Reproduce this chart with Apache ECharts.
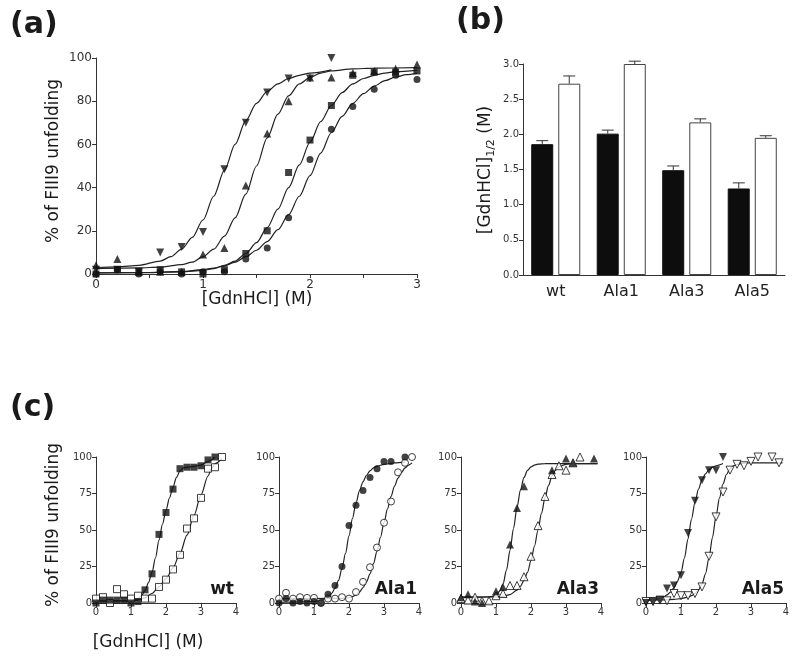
<!DOCTYPE html>
<html><head><meta charset="utf-8">
<script src="https://cdn.jsdelivr.net/npm/echarts@6/dist/echarts.min.js"></script>
<style>html,body{margin:0;padding:0;background:#fff}#chart{width:800px;height:660px}</style>
</head><body><div id="chart"></div>
<script>
// ---------- Panel (a): measured points ----------
const a_Ala5 = [[0,2],[0.2,2],[0.4,1],[0.6,10],[0.8,12.5],[1.0,19.5],[1.2,48.5],[1.4,70],[1.6,84],[1.8,90.5],[2.0,90.5],[2.2,100]];
const a_Ala3 = [[0,4],[0.2,7],[0.4,1],[0.6,1],[0.8,1],[1.0,9],[1.2,12],[1.4,41],[1.6,65],[1.8,80],[2.0,91],[2.2,91],[2.4,93],[2.6,94],[2.8,95],[3.0,97]];
const a_wt   = [[0,0],[0.2,2],[0.4,1],[0.6,2],[0.8,1],[1.0,0],[1.2,2],[1.4,9.5],[1.6,20],[1.8,47],[2.0,62],[2.2,78],[2.4,92],[2.6,93.5],[2.8,93.5],[3.0,94]];
const a_Ala1 = [[0,0],[0.2,2],[0.4,0],[0.6,1],[0.8,0],[1.0,1],[1.2,1],[1.4,7],[1.6,12],[1.8,26],[2.0,53],[2.2,67],[2.4,77.5],[2.6,85.5],[2.8,92],[3.0,90]];
// Panel (a): fitted curves
const a_fitAla5 = [[0,3],[0.2,3.3],[0.4,4],[0.6,6],[0.7,8],[0.8,11.5],[0.9,17],[1.0,25],[1.1,36],[1.2,48],[1.3,60],[1.4,71],[1.5,79],[1.6,84.5],[1.7,88],[1.8,90.5],[1.9,92],[2.0,93],[2.2,94.5]];
const a_fitAla3 = [[0,2.5],[0.4,2.8],[0.6,3.2],[0.8,4.3],[0.9,5.5],[1.0,8],[1.1,11.5],[1.2,17.5],[1.3,26],[1.4,37],[1.5,50],[1.6,63],[1.7,74],[1.8,82.5],[1.9,88],[2.0,91],[2.1,93],[2.2,94],[2.4,95],[2.6,95.3],[3.0,95.5]];
const a_fitWt   = [[0,0.5],[0.5,0.6],[0.8,1],[1.0,1.7],[1.1,2.5],[1.2,4],[1.3,6],[1.4,9.5],[1.5,14.5],[1.6,21.5],[1.7,30],[1.8,40],[1.9,50.5],[2.0,61],[2.1,70.5],[2.2,78],[2.3,84],[2.4,88],[2.5,90.5],[2.6,92],[2.7,93],[2.8,93.7],[3.0,94.3]];
const a_fitAla1 = [[0,0.5],[0.5,0.7],[0.8,1.2],[1.0,2],[1.1,2.7],[1.2,3.8],[1.3,5.5],[1.4,8],[1.5,11],[1.6,15],[1.7,20.5],[1.8,27.5],[1.9,36],[2.0,45.5],[2.1,56],[2.2,65.5],[2.3,73],[2.4,79],[2.5,83.5],[2.6,87],[2.7,89.5],[2.8,91.2],[2.9,92.3],[3.0,93]];

// ---------- Panel (b): [GdnHCl]1/2 ----------
const b_categories = ['wt','Ala1','Ala3','Ala5'];
const b_black    = [1.86, 2.01, 1.49, 1.23];
const b_blackErr = [0.05, 0.05, 0.06, 0.08];
const b_white    = [2.72, 3.00, 2.17, 1.95];
const b_whiteErr = [0.11, 0.04, 0.05, 0.03];

// ---------- Panel (c): measured points ----------
const c_wtBlack   = [[0,0],[0.2,2],[0.4,2],[0.6,2],[0.8,2],[1.0,0],[1.2,1],[1.4,9],[1.6,20],[1.8,47],[2.0,62],[2.2,78],[2.4,92],[2.6,93],[2.8,93],[3.0,94],[3.2,98],[3.4,100]];
const c_wtWhite   = [[0,3],[0.2,4],[0.4,0],[0.6,9.5],[0.8,6],[1.0,3],[1.2,5],[1.4,3],[1.6,3],[1.8,11],[2.0,16],[2.2,23],[2.4,33],[2.6,51],[2.8,58],[3.0,72],[3.2,92],[3.4,93],[3.6,100]];
const c_Ala1Black = [[0,0],[0.2,3],[0.4,0],[0.6,1],[0.8,0],[1.0,1],[1.2,0],[1.4,6],[1.6,12],[1.8,25],[2.0,53],[2.2,67],[2.4,77],[2.6,86],[2.8,92],[3.0,97],[3.2,97],[3.6,100]];
const c_Ala1White = [[0,3],[0.2,7],[0.4,3],[0.6,4],[0.8,3.5],[1.0,3.5],[1.2,0],[1.4,3],[1.6,3],[1.8,4],[2.0,3],[2.2,7.5],[2.4,14.5],[2.6,24.5],[2.8,38],[3.0,55],[3.2,69.5],[3.4,89.5],[3.6,96],[3.8,100]];
const c_Ala3Black = [[0,4],[0.2,6],[0.4,1],[0.6,0],[1.0,8],[1.2,11],[1.4,40],[1.6,65],[1.8,80],[2.6,91],[3.0,99],[3.2,96],[3.8,99]];
const c_Ala3White = [[0,3],[0.2,2],[0.4,4],[0.6,1.5],[0.8,1.5],[1.0,5],[1.2,6.5],[1.4,12],[1.6,12],[1.8,18],[2.0,32],[2.2,53],[2.4,73],[2.6,88],[2.8,94],[3.0,91],[3.2,96],[3.4,100]];
const c_Ala5Black = [[0,0],[0.2,1],[0.4,2],[0.6,10],[0.8,12],[1.0,19],[1.2,48],[1.4,70],[1.6,84],[1.8,91],[2.0,91],[2.2,100]];
const c_Ala5White = [[0,1],[0.2,1],[0.4,2],[0.6,1.5],[0.8,6.5],[1.0,5],[1.2,5],[1.4,6.5],[1.6,11],[1.8,32],[2.0,59],[2.2,76],[2.4,91],[2.6,95],[2.8,94],[3.0,97],[3.2,100],[3.6,100],[3.8,96]];
// Panel (c): fitted curves
const c_fitWtBlack   = [[0,1.5],[0.5,1.5],[1.0,1.5],[1.1,2],[1.2,3],[1.3,5],[1.4,8.5],[1.5,14],[1.6,21],[1.7,31],[1.8,43],[1.9,54],[2.0,63.5],[2.1,72],[2.2,79.5],[2.3,86],[2.4,90.5],[2.5,92.5],[2.6,93],[2.8,93.5],[3.0,94.5],[3.2,97],[3.4,100]];
const c_fitWtWhite   = [[0,1.5],[0.5,1.5],[1.0,1.5],[1.2,2],[1.4,3.5],[1.6,6.5],[1.8,11],[2.0,16.5],[2.2,24],[2.4,34],[2.6,46.5],[2.8,60],[3.0,74],[3.2,87],[3.3,92],[3.4,95.5],[3.6,99]];
const c_fitAla1Black = [[0,0.5],[0.5,0.7],[1.0,1],[1.2,1.8],[1.3,2.8],[1.4,4.3],[1.5,6.5],[1.6,10],[1.7,15.5],[1.8,23.5],[1.9,34],[2.0,46],[2.1,58],[2.2,68.5],[2.3,77],[2.4,83],[2.5,87.5],[2.6,90.5],[2.7,92.5],[2.8,93.7],[3.0,95],[3.3,96],[3.6,96.5]];
const c_fitAla1White = [[0,3],[1.0,3],[1.8,3.2],[2.0,3.6],[2.1,4.3],[2.2,5.5],[2.3,7.5],[2.4,10.5],[2.5,14.5],[2.6,20],[2.7,27],[2.8,35.5],[2.9,45],[3.0,55],[3.1,64.5],[3.2,73],[3.3,80],[3.4,85.5],[3.5,89.5],[3.6,92.5],[3.7,94.5],[3.8,96]];
const c_fitAla3Black = [[0,4],[0.5,4],[0.8,4.2],[0.9,4.6],[1.0,5.5],[1.1,8],[1.2,13],[1.3,22.5],[1.4,36],[1.5,51],[1.6,65.5],[1.7,77.5],[1.8,86],[1.9,90.8],[2.0,93.3],[2.1,94.5],[2.2,95.1],[2.4,95.4],[3.0,95.5],[3.9,95.5]];
const c_fitAla3White = [[0,4],[0.5,4],[1.0,4.2],[1.2,4.6],[1.4,5.8],[1.6,8.8],[1.7,11.5],[1.8,15.5],[1.9,21],[2.0,29],[2.1,39],[2.2,50],[2.3,61.5],[2.4,72],[2.5,80.5],[2.6,87],[2.7,91],[2.8,93.3],[3.0,95],[3.2,95.4],[3.9,95.5]];
const c_fitAla5Black = [[0,2],[0.3,2.5],[0.5,4],[0.6,5.5],[0.7,7.5],[0.8,10.5],[0.9,15],[1.0,21],[1.1,31],[1.2,44],[1.3,57.5],[1.4,69],[1.5,78],[1.6,84.5],[1.7,88.5],[1.8,91.3],[1.9,93],[2.0,94],[2.2,95.5]];
const c_fitAla5White = [[0,2],[0.5,2.2],[0.8,2.5],[1.0,3],[1.2,4],[1.3,5],[1.4,6.5],[1.5,9],[1.6,13],[1.7,20],[1.8,31],[1.9,45],[2.0,59.5],[2.1,72],[2.2,81.5],[2.3,88],[2.4,92],[2.5,94],[2.6,95],[2.8,95.8],[3.0,96],[3.9,96]];

const c_labels = ['wt','Ala1','Ala3','Ala5'];
const aTickLabels = [0,1,2,3];

// ---------- styling ----------
const FONT = '"DejaVu Sans", sans-serif';
const AX = '#333';
const INK = '#111';

function valAxis(gridIndex, min, max, interval, fontSize, extra) {
  return Object.assign({
    type: 'value', gridIndex, min, max, interval,
    axisLine: {show: true, onZero: false, lineStyle: {color: AX, width: 1}},
    axisTick: {show: true, length: 4, lineStyle: {color: AX, width: 1}},
    axisLabel: {color: '#333', fontSize, fontFamily: FONT, margin: 4},
    splitLine: {show: false}
  }, extra || {});
}

const cLefts = [96, 279, 461, 646];
const grids = [
  {left: 96, top: 58, width: 321, height: 216},
  {left: 523, top: 64, width: 262, height: 211}
].concat(cLefts.map(l => ({left: l, top: 457, width: 140, height: 146})));

const xAxes = [
  valAxis(0, 0, 3, 0.5, 12, {axisLabel: {color:'#333', fontSize:12, fontFamily:FONT, margin:5,
     formatter: v => aTickLabels.includes(v) ? String(v) : ''}}),
  {type: 'category', gridIndex: 1, data: b_categories,
   axisLine: {show: true, lineStyle: {color: AX, width: 1}},
   axisTick: {show: false},
   axisLabel: {color: '#222', fontSize: 16, fontFamily: FONT, margin: 9}}
].concat(cLefts.map((l, i) => valAxis(2 + i, 0, 4, 1, 10)));

const yAxes = [
  valAxis(0, 0, 100, 20, 12),
  valAxis(1, 0, 3, 0.5, 10, {axisLabel: {color:'#333', fontSize:10, fontFamily:FONT, margin:4,
     formatter: v => v.toFixed(1)}})
].concat(cLefts.map((l, i) => valAxis(2 + i, 0, 100, 25, 10)));

function curve(xi, data) {
  return {type: 'line', xAxisIndex: xi, yAxisIndex: xi, data, showSymbol: false, symbol: 'none',
    smooth: 0.3, smoothMonotone: 'x', lineStyle: {color: '#222', width: 1.2}, z: 2, silent: true};
}
function pts(xi, data, symbol, filled, size, rotate) {
  return {type: 'scatter', xAxisIndex: xi, yAxisIndex: xi, data, symbol,
    symbolSize: size || 7, symbolRotate: rotate || 0, clip: false, z: filled ? 4 : 3,
    itemStyle: filled ? {color: INK} : {color: '#fff', borderColor: INK, borderWidth: 1}};
}

function errBars(values, errs, offset) {
  return {type: 'custom', xAxisIndex: 1, yAxisIndex: 1, z: 5,
    data: values.map((v, i) => [i, v, errs[i]]),
    encode: {x: 0, y: 1},
    renderItem: function (params, api) {
      const x = api.coord([api.value(0), 0])[0] + offset;
      const yBase = api.coord([api.value(0), api.value(1)])[1];
      const yTop = api.coord([api.value(0), api.value(1) + api.value(2)])[1];
      const st = {stroke: '#333', lineWidth: 1};
      return {type: 'group', children: [
        {type: 'line', shape: {x1: x, y1: yBase, x2: x, y2: yTop}, style: st},
        {type: 'line', shape: {x1: x - 6, y1: yTop, x2: x + 6, y2: yTop}, style: st}
      ]};
    }};
}

const series = [
  // (a)
  curve(0, a_fitAla5), curve(0, a_fitAla3), curve(0, a_fitWt), curve(0, a_fitAla1),
  pts(0, a_Ala5, 'triangle', true, 8, 180),
  pts(0, a_Ala3, 'triangle', true, 8),
  pts(0, a_wt, 'rect', true, 7),
  pts(0, a_Ala1, 'circle', true, 7),
  // (b)
  {type: 'bar', xAxisIndex: 1, yAxisIndex: 1, data: b_black, barWidth: 22, barGap: '23%',
   itemStyle: {color: '#0d0d0d', borderColor: '#0d0d0d', borderWidth: 1}},
  {type: 'bar', xAxisIndex: 1, yAxisIndex: 1, data: b_white, barWidth: 22,
   itemStyle: {color: '#fff', borderColor: '#444', borderWidth: 1}},
  errBars(b_black, b_blackErr, -13.5),
  errBars(b_white, b_whiteErr, 13.5),
  // (c) wt
  curve(2, c_fitWtBlack), curve(2, c_fitWtWhite),
  pts(2, c_wtWhite, 'rect', false, 7), pts(2, c_wtBlack, 'rect', true, 7),
  // (c) Ala1
  curve(3, c_fitAla1Black), curve(3, c_fitAla1White),
  pts(3, c_Ala1White, 'circle', false, 7), pts(3, c_Ala1Black, 'circle', true, 7),
  // (c) Ala3
  curve(4, c_fitAla3Black), curve(4, c_fitAla3White),
  pts(4, c_Ala3White, 'triangle', false, 8), pts(4, c_Ala3Black, 'triangle', true, 8),
  // (c) Ala5
  curve(5, c_fitAla5Black), curve(5, c_fitAla5White),
  pts(5, c_Ala5White, 'triangle', false, 8, 180), pts(5, c_Ala5Black, 'triangle', true, 8, 180)
];

function txt(x, y, text, font, align, valign, rotation) {
  return {type: 'text', x, y, rotation: rotation || 0, silent: true,
    style: {text, font, fill: '#1a1a1a', align: align || 'center', verticalAlign: valign || 'middle',
            textAlign: align || 'center', textVerticalAlign: valign || 'middle'}};
}

const graphics = [
  txt(10, 10, '(a)', 'bold 30px ' + FONT, 'left', 'top'),
  txt(456, 6, '(b)', 'bold 30px ' + FONT, 'left', 'top'),
  txt(10, 393, '(c)', 'bold 30px ' + FONT, 'left', 'top'),
  txt(54, 161, '% of FIII9 unfolding', '17px ' + FONT, 'center', 'middle', Math.PI / 2),
  txt(257, 300, '[GdnHCl] (M)', '17px ' + FONT, 'center', 'middle'),
  txt(54, 525, '% of FIII9 unfolding', '17px ' + FONT, 'center', 'middle', Math.PI / 2),
  txt(148, 643, '[GdnHCl] (M)', '17px ' + FONT, 'center', 'middle'),
  {type: 'text', x: 486, y: 170, rotation: Math.PI / 2, silent: true,
   style: {text: '{n|[GdnHCl]}{s|1/2}{n| (M)}', align: 'center', verticalAlign: 'middle',
     rich: {n: {fontSize: 17, fontFamily: FONT, fill: '#1a1a1a', lineHeight: 22},
            s: {fontSize: 11, fontFamily: FONT, fill: '#1a1a1a', lineHeight: 12, verticalAlign: 'bottom'}}}}
].concat(c_labels.map((t, i) => txt(cLefts[i] + 138, 598, t, 'bold 17px ' + FONT, 'right', 'bottom')));

const chart = echarts.init(document.getElementById('chart'), null, {renderer: 'canvas'});
chart.setOption({
  animation: false,
  backgroundColor: '#fff',
  grid: grids,
  xAxis: xAxes,
  yAxis: yAxes,
  series,
  graphic: graphics
});
</script></body></html>
